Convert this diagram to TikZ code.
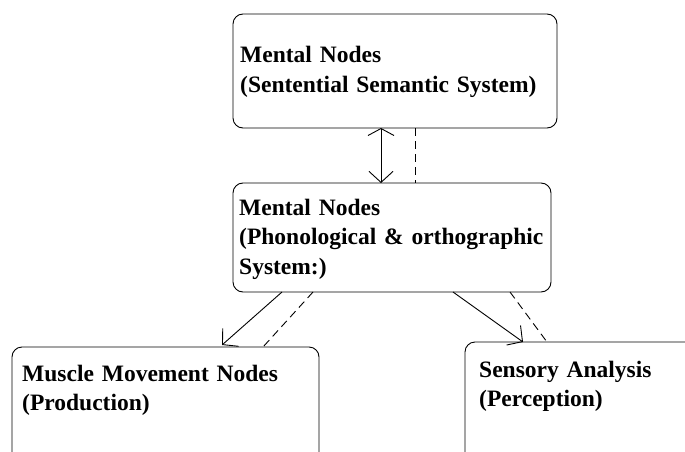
\documentclass[tikz,border=0pt]{standalone}
\usepackage{fontspec}
\setmainfont{Liberation Serif}
\usetikzlibrary{arrows.meta}

\begin{document}
\begin{tikzpicture}[x=1pt, y=-1pt,
    box/.style={draw, line width=0.9pt, rounded corners=10pt, anchor=north west,
                inner sep=0pt, outer sep=0pt},
    lbl/.style={anchor=base west, inner sep=0pt, text width=340pt, align=left,
                font=\fontsize{23.5}{29.5}\selectfont\bfseries},
    barb/.style={line width=0.9pt, -{Straight Barb[length=11pt,width=24pt]}},
    dashline/.style={line width=0.9pt, dash pattern=on 8pt off 5pt}]

  \clip (0,0) rectangle (685,452);

  \node [box, minimum width=324pt, minimum height=114pt] (sem) at (233,14) {};
  \node [box, minimum width=318pt, minimum height=109pt] (phon) at (233,183) {};
  \node [box, minimum width=307pt, minimum height=140pt] (musc) at (12,347) {};
  \node [box, minimum width=260pt, minimum height=140pt] (sens) at (465,342) {};

  \node [lbl] (semtxt) at (240,63) {Mental Nodes\\(Sentential Semantic System)};
  \node [lbl] (phontxt) at (239,215) {Mental Nodes\\(Phonological \& orthographic\\System:)};
  \node [lbl] (musctxt) at (22,381) {Muscle Movement Nodes\\(Production)};
  \node [lbl] (senstxt) at (479,377) {Sensory Analysis\\(Perception)};

  % links between the levels
  \draw [line width=0.9pt, {Straight Barb[length=7pt,width=26pt]}-{Straight Barb[length=11pt,width=24pt]}]
    ([xshift=-14pt]sem.south) -- ([xshift=-11pt]phon.north);
  \draw [dashline] ([xshift=20pt]sem.south) -- ([xshift=23pt]phon.north);

  \draw [barb] ([xshift=49pt]phon.south west) -- ([xshift=56.5pt,yshift=2pt]musc.north);
  \draw [dashline] ([xshift=80pt]phon.south west) -- ([xshift=97.5pt]musc.north);

  \draw [barb] ([xshift=-98pt]phon.south east) -- ([xshift=58pt]sens.north west);
  \draw [dashline] ([xshift=-41pt]phon.south east) -- ([xshift=82pt]sens.north west);
\end{tikzpicture}
\end{document}
